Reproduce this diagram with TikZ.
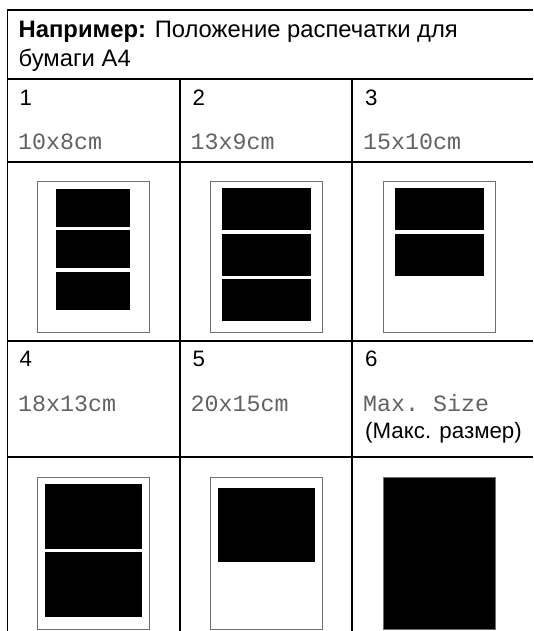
\documentclass[tikz,border=0pt]{standalone}
\usepackage{fontspec}
\setmainfont{Liberation Sans}
\setmonofont{Liberation Mono}
\usetikzlibrary{positioning}
\definecolor{sizegray}{HTML}{626262}
\definecolor{pageedge}{HTML}{6E6E6E}
\tikzset{
    every node/.style={inner sep=0pt},
    gridline/.style={line width=1.6pt},
    headtext/.style={anchor=base west,font=\fontsize{23.8}{28}\selectfont},
    numtext/.style={anchor=base west,font=\fontsize{22.3}{26}\selectfont},
    sizetext/.style={anchor=base west,font=\ttfamily\fontsize{23.3}{26}\selectfont,text=sizegray},
    sheet/.style={draw=pageedge,line width=1pt,fill=white},
    photo/.style={fill=black}
}

\begin{document}
\begin{tikzpicture}[x=1pt,y=-1pt]
\useasboundingbox (0,0) rectangle (533,631);

% table grid
\draw[gridline] (533,10) -- (7.5,10) -- (7.5,631);
\draw[gridline] (7.5,79) -- (533,79);
\draw[gridline] (7.5,162) -- (533,162);
\draw[gridline] (7.5,341) -- (533,341);
\draw[gridline] (7.5,457) -- (533,457);
\draw[gridline] (180,79) -- (180,631);
\draw[gridline] (352,79) -- (352,631);

% header
\node[headtext] (head1) at (18.5,37.3) {\textbf{Например:} Положение распечатки для};
\node[headtext] (head2) at (18.5,66.7) {бумаги А4};

% first row of sizes
\node[numtext] (num1) at (19.5,105.3) {1};
\node[numtext] (num2) at (192.5,105.3) {2};
\node[numtext] (num3) at (365,105.3) {3};
\node[sizetext] (size1) at (18,149.3) {10x8cm};
\node[sizetext] (size2) at (190.5,149.3) {13x9cm};
\node[sizetext] (size3) at (363,149.3) {15x10cm};

% second row of sizes
\node[numtext] (num4) at (19.5,366) {4};
\node[numtext] (num5) at (192.5,366) {5};
\node[numtext] (num6) at (365,366) {6};
\node[sizetext] (size4) at (18,411) {18x13cm};
\node[sizetext] (size5) at (190.5,411) {20x15cm};
\node[sizetext] (size6) at (363,411) {Max. Size};
\node[numtext] (maxru) at (365,438) {(Макс. размер)};

% 10x8cm
\draw[sheet] (37,181) rectangle (149,332);
\fill[photo] (56,189) rectangle (130,226.7);
\fill[photo] (56,230) rectangle (130,267.7);
\fill[photo] (56,272) rectangle (130,310);

% 13x9cm
\draw[sheet] (210,181) rectangle (322,332);
\fill[photo] (221.7,188) rectangle (311,230);
\fill[photo] (221.7,234) rectangle (311,276);
\fill[photo] (221.7,279) rectangle (311,320.7);

% 15x10cm
\draw[sheet] (383,181) rectangle (495,332);
\fill[photo] (395,188) rectangle (484,230);
\fill[photo] (395,234) rectangle (484,276);

% 18x13cm
\draw[sheet] (37,477) rectangle (149,629);
\fill[photo] (45,483.7) rectangle (142,549);
\fill[photo] (45,552) rectangle (142,616.7);

% 20x15cm
\draw[sheet] (210,477) rectangle (322,629);
\fill[photo] (217.7,487.7) rectangle (314.7,562);

% max. size
\draw[sheet,fill=black] (383,477) rectangle (495,629);
\end{tikzpicture}
\end{document}
